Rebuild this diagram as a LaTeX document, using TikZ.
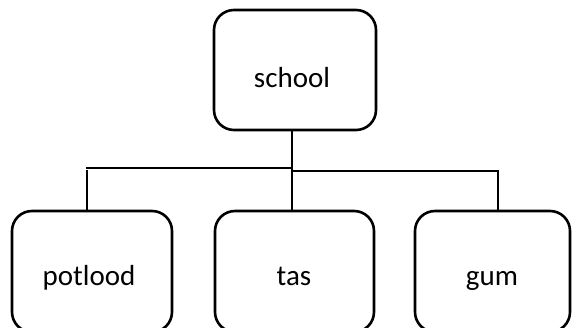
\documentclass[tikz,border=0pt]{standalone}
\usepackage{fontspec}
\setmainfont{Carlito}
\begin{document}
\begin{tikzpicture}[x=1pt,y=-1pt,
  boxst/.style={draw=black, line width=2.6pt, rounded corners=20pt},
  lbl/.style={anchor=base, font=\fontsize{29}{34}\selectfont, inner sep=0pt},
  conn/.style={draw=black, line width=2.4pt}]
\useasboundingbox (0,0) rectangle (572,328);
\clip (0,0) rectangle (572,328);
\draw[boxst] (214,10) rectangle (376,130);
\node[lbl] (school) at (292,88) {school};
\draw[boxst] (12,211) rectangle (172,332);
\node[lbl] (potlood) at (89,285) {potlood};
\draw[boxst] (215,211) rectangle (374,332);
\node[lbl] (tas) at (294,285) {tas};
\draw[boxst] (415,211) rectangle (570,332);
\node[lbl] (gum) at (492,285) {gum};
\coordinate (sb) at (292,130);
\coordinate (jl) at (292,168);
\coordinate (l1) at (86,168);
\coordinate (l2) at (87,170);
\coordinate (lb) at (87,211);
\coordinate (jr) at (292,171);
\coordinate (r1) at (498,171);
\coordinate (rb) at (498,211);
\coordinate (tb) at (292,211);
\draw[conn] (sb) -- (tb);
\draw[conn] (jl) -- (l1);
\draw[conn] (l2) -- (lb);
\draw[conn] (jr) -- (r1) -- (rb);
\end{tikzpicture}
\end{document}
